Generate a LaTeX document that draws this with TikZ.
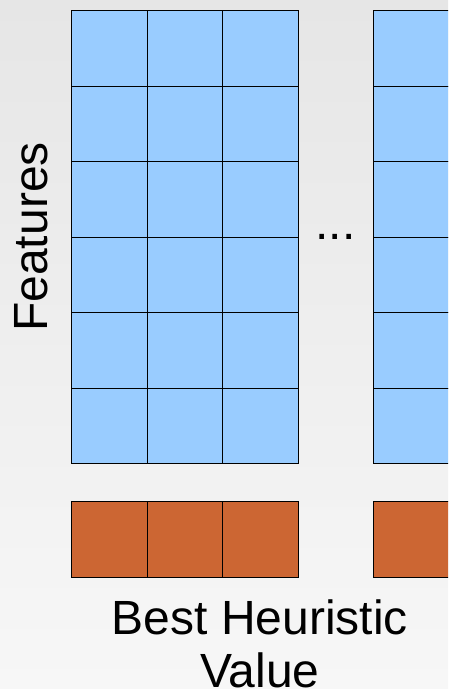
\documentclass[tikz,border=0pt]{standalone}
\usepackage{fontspec}
\setmainfont{Liberation Sans}
\definecolor{featblue}{HTML}{99CCFF}
\definecolor{valorange}{HTML}{CC6633}
\definecolor{bgtop}{HTML}{E6E6E6}
\definecolor{bgbottom}{HTML}{F7F7F7}

\begin{document}
\begin{tikzpicture}[x=1pt,y=-1pt]
%----------celdas---------
\tikzset{cell/.style={
rectangle,
draw=black,
line width=0.9pt,
inner sep=0pt,
anchor=north west,
minimum width=75.6pt,
minimum height=75.5pt},
feature/.style={cell,fill=featblue},
value/.style={cell,fill=valorange},
label/.style={font=\fontsize{48}{53}\selectfont}};

% fondo
\shade [top color=bgtop,bottom color=bgbottom] (0,0) rectangle (448,689);
\useasboundingbox (0,0) rectangle (448,689);
\clip (0,0) rectangle (448,689);

%------------ matriz izquierda---------------
\foreach \i in {0,1,2}
  \foreach \j in {0,...,5}
    \node [feature] (fl-\i-\j) at (71+75.6*\i,10+75.5*\j) {};
\foreach \i in {0,1,2}
  \node [value] (vl-\i) at (71+75.6*\i,501) {};

%------------ matriz derecha---------------
\foreach \i in {0,1,2}
  \foreach \j in {0,...,5}
    \node [feature] (fr-\i-\j) at (373+75.6*\i,10+75.5*\j) {};
\foreach \i in {0,1,2}
  \node [value] (vr-\i) at (373+75.6*\i,501) {};

% -----------textos----------------
\node [label,rotate=90] (features) at (31,237) {Features};
\node [label] (dots) at (335.5,237) {...};
\node [label,align=center,anchor=north] (best) at (260,596) {Best Heuristic\\Value};
\end{tikzpicture}
\end{document}
